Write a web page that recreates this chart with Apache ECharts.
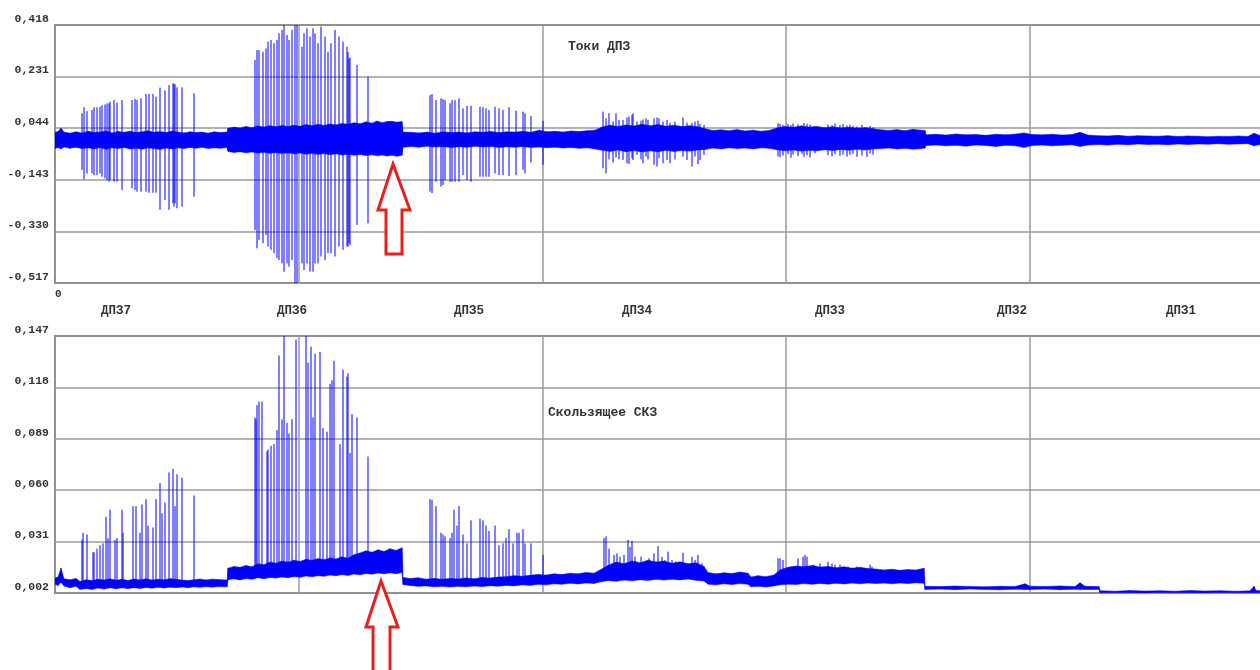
<!DOCTYPE html>
<html>
<head>
<meta charset="utf-8">
<title>Токи ДПЗ / Скользящее СКЗ</title>
<script src="https://cdn.jsdelivr.net/npm/echarts@6.0.0/dist/echarts.min.js"></script>
<style>
    html, body { margin: 0; padding: 0; background: #fff; }
    #chart { width: 1260px; height: 670px; }
</style>
</head>
<body>
<div id="chart"></div>
<script>
// горизонталь: отсчёты 0 … 1207, вертикальная сетка каждые 243.7
const xMax = 1207
const xStep = 243.7

const topTicks = [-0.517, -0.330, -0.143, 0.044, 0.231, 0.418]
const botTicks = [0.002, 0.031, 0.060, 0.089, 0.118, 0.147]

const zoneNames = ['ДПЗ7', 'ДПЗ6', 'ДПЗ5', 'ДПЗ4', 'ДПЗ3', 'ДПЗ2', 'ДПЗ1']
const zoneX = [61, 237, 414, 582, 775, 957, 1126]

// Токи ДПЗ: огибающая шумовой полосы [x, низ, верх]
const topBand = [
    [0, -0.030, 0.028], [3, -0.026, 0.032], [6, -0.031, 0.044], [9, -0.024, 0.030], [15, -0.029, 0.026],
    [21, -0.025, 0.031], [27, -0.030, 0.027], [33, -0.027, 0.033], [39, -0.031, 0.028], [45, -0.026, 0.030],
    [51, -0.032, 0.034], [57, -0.027, 0.027], [63, -0.030, 0.032], [69, -0.026, 0.029], [75, -0.031, 0.033],
    [81, -0.028, 0.028], [87, -0.032, 0.031], [93, -0.027, 0.035], [99, -0.030, 0.029], [105, -0.033, 0.032],
    [111, -0.028, 0.028], [117, -0.031, 0.034], [123, -0.027, 0.030], [129, -0.030, 0.027], [135, -0.026, 0.031],
    [141, -0.029, 0.028], [147, -0.025, 0.030], [153, -0.030, 0.026], [159, -0.027, 0.031], [165, -0.029, 0.028],
    [172, -0.026, 0.030], [173, -0.040, 0.044], [179, -0.044, 0.048], [185, -0.041, 0.045], [191, -0.045, 0.050],
    [197, -0.042, 0.046], [203, -0.046, 0.052], [209, -0.043, 0.048], [215, -0.047, 0.053], [221, -0.044, 0.049],
    [227, -0.048, 0.054], [233, -0.045, 0.050], [239, -0.049, 0.055], [245, -0.046, 0.051], [251, -0.050, 0.057],
    [257, -0.047, 0.053], [263, -0.051, 0.058], [269, -0.048, 0.054], [275, -0.052, 0.059], [281, -0.049, 0.056],
    [287, -0.053, 0.061], [293, -0.050, 0.058], [299, -0.054, 0.064], [305, -0.051, 0.060], [311, -0.055, 0.067],
    [317, -0.052, 0.062], [322, -0.056, 0.070], [327, -0.053, 0.064], [332, -0.057, 0.068], [337, -0.054, 0.069],
    [342, -0.058, 0.066], [347, -0.054, 0.068], [348, -0.025, 0.030], [356, -0.022, 0.029], [364, -0.025, 0.027],
    [372, -0.021, 0.030], [380, -0.024, 0.026], [388, -0.022, 0.031], [396, -0.026, 0.028], [404, -0.023, 0.030],
    [412, -0.025, 0.027], [420, -0.021, 0.031], [428, -0.024, 0.029], [436, -0.022, 0.032], [444, -0.026, 0.028],
    [452, -0.023, 0.031], [460, -0.025, 0.030], [468, -0.022, 0.033], [476, -0.026, 0.029], [484, -0.024, 0.037],
    [492, -0.027, 0.031], [500, -0.025, 0.033], [508, -0.028, 0.030], [516, -0.026, 0.034], [524, -0.029, 0.032],
    [532, -0.027, 0.035], [540, -0.031, 0.037], [547, -0.036, 0.048], [555, -0.040, 0.055], [563, -0.035, 0.050],
    [571, -0.041, 0.056], [579, -0.037, 0.052], [587, -0.042, 0.058], [595, -0.038, 0.053], [603, -0.041, 0.057],
    [611, -0.036, 0.051], [619, -0.040, 0.055], [627, -0.037, 0.050], [635, -0.039, 0.053], [643, -0.035, 0.049],
    [650, -0.033, 0.042], [658, -0.028, 0.036], [666, -0.031, 0.038], [674, -0.027, 0.035], [682, -0.030, 0.039],
    [690, -0.028, 0.034], [698, -0.031, 0.037], [706, -0.027, 0.033], [714, -0.029, 0.036], [722, -0.034, 0.045],
    [730, -0.038, 0.050], [738, -0.035, 0.047], [746, -0.039, 0.052], [754, -0.036, 0.048], [762, -0.038, 0.050],
    [770, -0.034, 0.046], [778, -0.037, 0.049], [786, -0.033, 0.045], [794, -0.036, 0.047], [802, -0.032, 0.044],
    [810, -0.035, 0.046], [818, -0.031, 0.042], [826, -0.030, 0.038], [834, -0.028, 0.036], [842, -0.031, 0.039],
    [850, -0.029, 0.035], [858, -0.032, 0.040], [866, -0.030, 0.037], [870, -0.028, 0.036], [871, -0.019, 0.020],
    [881, -0.017, 0.022], [891, -0.020, 0.019], [901, -0.018, 0.023], [911, -0.021, 0.020], [921, -0.017, 0.021],
    [931, -0.019, 0.018], [941, -0.022, 0.022], [951, -0.018, 0.020], [961, -0.020, 0.023], [969, -0.026, 0.027],
    [977, -0.019, 0.021], [987, -0.017, 0.020], [997, -0.020, 0.022], [1007, -0.018, 0.019], [1017, -0.016, 0.021],
    [1025, -0.022, 0.029], [1033, -0.017, 0.019], [1043, -0.015, 0.017], [1053, -0.017, 0.016], [1063, -0.014, 0.018],
    [1073, -0.016, 0.015], [1083, -0.013, 0.017], [1093, -0.015, 0.016], [1103, -0.014, 0.015], [1113, -0.016, 0.017],
    [1123, -0.013, 0.014], [1133, -0.015, 0.016], [1143, -0.013, 0.015], [1153, -0.014, 0.013], [1163, -0.012, 0.015],
    [1173, -0.014, 0.014], [1183, -0.013, 0.016], [1193, -0.012, 0.014], [1199, -0.020, 0.026], [1207, -0.013, 0.015],
]

// Токи ДПЗ: отдельные выбросы [x, минимум, максимум]
const topSpikes = [
    // ДПЗ7
    [27, -0.108, 0.098], [29, -0.141, 0.120], [32, -0.120, 0.106], [37, -0.120, 0.110], [39, -0.126, 0.120],
    [42, -0.126, 0.120], [45, -0.120, 0.122], [47, -0.132, 0.127], [50, -0.138, 0.130], [52, -0.144, 0.134],
    [54, -0.150, 0.134], [55, -0.144, 0.140], [59, -0.150, 0.146], [62, -0.150, 0.137], [67, -0.180, 0.146],
    [77, -0.174, 0.146], [80, -0.180, 0.150], [82, -0.186, 0.146], [86, -0.186, 0.152], [91, -0.186, 0.168],
    [94, -0.190, 0.168], [98, -0.190, 0.168], [101, -0.190, 0.158], [105, -0.252, 0.191], [110, -0.216, 0.181],
    [114, -0.252, 0.200], [118, -0.228, 0.207], [119, -0.240, 0.205], [120, -0.228, 0.203], [122, -0.246, 0.192],
    [127, -0.240, 0.192], [139, -0.204, 0.170],
    // ДПЗ6
    [200, -0.325, 0.291], [202, -0.391, 0.327], [204, -0.361, 0.327], [208, -0.373, 0.321], [211, -0.343, 0.333],
    [213, -0.385, 0.358], [216, -0.397, 0.364], [219, -0.409, 0.352], [222, -0.427, 0.364], [224, -0.434, 0.388],
    [227, -0.446, 0.400], [229, -0.476, 0.418], [232, -0.446, 0.382], [234, -0.458, 0.364], [237, -0.434, 0.400],
    [240, -0.517, 0.418], [242, -0.517, 0.418], [247, -0.446, 0.339], [249, -0.470, 0.388], [252, -0.446, 0.406],
    [255, -0.476, 0.376], [258, -0.476, 0.406], [260, -0.446, 0.388], [263, -0.446, 0.352], [266, -0.421, 0.412],
    [270, -0.434, 0.376], [273, -0.409, 0.321], [276, -0.409, 0.352], [280, -0.421, 0.400], [284, -0.385, 0.376],
    [288, -0.397, 0.358], [292, -0.385, 0.339], [293, -0.385, 0.320], [294, -0.373, 0.297], [295, -0.380, 0.300],
    [302, -0.307, 0.273], [313, -0.301, 0.231],
    // ДПЗ5
    [375, -0.186, 0.164], [377, -0.192, 0.168], [381, -0.150, 0.146], [386, -0.168, 0.152], [388, -0.162, 0.149],
    [390, -0.144, 0.146], [395, -0.150, 0.134], [397, -0.150, 0.146], [400, -0.150, 0.146], [404, -0.150, 0.152],
    [408, -0.126, 0.116], [412, -0.144, 0.125], [416, -0.150, 0.125], [425, -0.132, 0.122], [428, -0.132, 0.120],
    [431, -0.132, 0.116], [434, -0.132, 0.110], [440, -0.120, 0.122], [444, -0.126, 0.116], [448, -0.126, 0.110],
    [454, -0.129, 0.120], [461, -0.126, 0.108], [468, -0.107, 0.104], [470, -0.120, 0.098], [476, -0.081, 0.088],
    [488, -0.089, 0.071],
    // ДПЗ4
    [548, -0.101, 0.104], [551, -0.120, 0.080], [554, -0.069, 0.098], [558, -0.081, 0.068], [561, -0.062, 0.098],
    [564, -0.069, 0.074], [568, -0.071, 0.074], [572, -0.083, 0.083], [574, -0.086, 0.086], [577, -0.065, 0.092],
    [578, -0.071, 0.098], [582, -0.053, 0.068], [586, -0.069, 0.071], [588, -0.083, 0.076], [591, -0.059, 0.080],
    [593, -0.069, 0.074], [599, -0.089, 0.080], [602, -0.095, 0.083], [604, -0.065, 0.080], [608, -0.083, 0.068],
    [612, -0.071, 0.074], [615, -0.083, 0.064], [620, -0.069, 0.068], [628, -0.059, 0.083], [632, -0.071, 0.064],
    [637, -0.095, 0.064], [640, -0.059, 0.068], [643, -0.086, 0.071], [645, -0.071, 0.059], [649, -0.053, 0.056],
    // ДПЗ3
    [723, -0.058, 0.062], [725, -0.061, 0.060], [728, -0.055, 0.056], [733, -0.050, 0.059], [736, -0.063, 0.055],
    [738, -0.052, 0.061], [743, -0.057, 0.058], [747, -0.049, 0.054], [749, -0.060, 0.063], [752, -0.054, 0.060],
    [755, -0.062, 0.057], [760, -0.047, 0.052], [773, -0.054, 0.058], [777, -0.058, 0.055], [780, -0.050, 0.061],
    [785, -0.056, 0.056], [788, -0.052, 0.059], [792, -0.059, 0.054], [795, -0.053, 0.057], [798, -0.049, 0.053],
    [802, -0.060, 0.050], [807, -0.055, 0.055], [812, -0.060, 0.048], [815, -0.048, 0.052], [818, -0.052, 0.047],
]

// Скользящее СКЗ: огибающая полосы [x, низ, верх]
const botBand = [
    [0, 0.0070, 0.0105], [3, 0.0062, 0.0110], [6, 0.0080, 0.0160], [9, 0.0060, 0.0100], [15, 0.0050, 0.0095],
    [21, 0.0058, 0.0102], [25, 0.0040, 0.0085], [31, 0.0045, 0.0095], [37, 0.0040, 0.0090], [43, 0.0048, 0.0098],
    [49, 0.0042, 0.0093], [55, 0.0050, 0.0100], [61, 0.0044, 0.0092], [67, 0.0049, 0.0097], [73, 0.0045, 0.0091],
    [79, 0.0050, 0.0099], [85, 0.0046, 0.0094], [91, 0.0051, 0.0100], [97, 0.0047, 0.0093], [103, 0.0052, 0.0098],
    [109, 0.0048, 0.0095], [115, 0.0053, 0.0101], [121, 0.0050, 0.0097], [127, 0.0054, 0.0093], [133, 0.0050, 0.0090],
    [139, 0.0055, 0.0095], [145, 0.0052, 0.0099], [151, 0.0056, 0.0094], [157, 0.0053, 0.0098], [163, 0.0057, 0.0096],
    [172, 0.0055, 0.0093], [173, 0.0095, 0.0160], [179, 0.0100, 0.0170], [185, 0.0094, 0.0165], [191, 0.0102, 0.0175],
    [197, 0.0098, 0.0168], [203, 0.0106, 0.0185], [209, 0.0101, 0.0180], [215, 0.0108, 0.0195], [221, 0.0104, 0.0188],
    [227, 0.0110, 0.0200], [233, 0.0106, 0.0194], [239, 0.0113, 0.0205], [245, 0.0109, 0.0198], [251, 0.0116, 0.0210],
    [257, 0.0112, 0.0204], [263, 0.0118, 0.0214], [269, 0.0114, 0.0208], [275, 0.0121, 0.0218], [281, 0.0117, 0.0212],
    [287, 0.0124, 0.0224], [293, 0.0119, 0.0216], [299, 0.0127, 0.0236], [305, 0.0123, 0.0246], [311, 0.0130, 0.0258],
    [317, 0.0126, 0.0250], [323, 0.0133, 0.0264], [329, 0.0128, 0.0254], [335, 0.0134, 0.0270], [341, 0.0129, 0.0260],
    [347, 0.0135, 0.0275], [348, 0.0068, 0.0108], [355, 0.0062, 0.0102], [363, 0.0058, 0.0106], [371, 0.0060, 0.0098],
    [379, 0.0055, 0.0102], [387, 0.0058, 0.0098], [395, 0.0054, 0.0102], [403, 0.0058, 0.0099], [411, 0.0055, 0.0105],
    [419, 0.0059, 0.0100], [427, 0.0056, 0.0108], [435, 0.0061, 0.0104], [443, 0.0058, 0.0110], [451, 0.0063, 0.0112],
    [459, 0.0060, 0.0118], [467, 0.0066, 0.0114], [475, 0.0063, 0.0120], [483, 0.0069, 0.0125], [491, 0.0066, 0.0121],
    [499, 0.0072, 0.0128], [507, 0.0069, 0.0124], [515, 0.0075, 0.0132], [523, 0.0071, 0.0128], [531, 0.0077, 0.0136],
    [539, 0.0074, 0.0132], [545, 0.0082, 0.0150], [553, 0.0090, 0.0175], [561, 0.0086, 0.0195], [569, 0.0093, 0.0185],
    [577, 0.0089, 0.0200], [585, 0.0095, 0.0190], [593, 0.0091, 0.0205], [601, 0.0097, 0.0195], [609, 0.0093, 0.0200],
    [617, 0.0098, 0.0188], [625, 0.0094, 0.0196], [633, 0.0099, 0.0185], [641, 0.0092, 0.0190], [649, 0.0088, 0.0170],
    [653, 0.0070, 0.0135], [661, 0.0066, 0.0128], [669, 0.0072, 0.0134], [677, 0.0068, 0.0130], [685, 0.0073, 0.0138],
    [693, 0.0069, 0.0132], [696, 0.0055, 0.0110], [703, 0.0058, 0.0118], [711, 0.0054, 0.0112], [719, 0.0060, 0.0122],
    [725, 0.0066, 0.0150], [733, 0.0070, 0.0165], [741, 0.0068, 0.0172], [749, 0.0073, 0.0168], [757, 0.0069, 0.0175],
    [765, 0.0074, 0.0166], [773, 0.0070, 0.0170], [781, 0.0075, 0.0162], [789, 0.0071, 0.0168], [797, 0.0076, 0.0160],
    [805, 0.0072, 0.0165], [813, 0.0077, 0.0158], [821, 0.0073, 0.0155], [829, 0.0076, 0.0150], [837, 0.0072, 0.0154],
    [845, 0.0077, 0.0148], [853, 0.0073, 0.0152], [861, 0.0078, 0.0150], [869, 0.0075, 0.0160], [870, 0.0040, 0.0058],
    [885, 0.0042, 0.0056], [900, 0.0039, 0.0059], [915, 0.0043, 0.0057], [930, 0.0040, 0.0055], [945, 0.0038, 0.0058],
    [960, 0.0041, 0.0056], [970, 0.0040, 0.0072], [975, 0.0040, 0.0058], [990, 0.0042, 0.0057], [1005, 0.0039, 0.0060],
    [1020, 0.0041, 0.0056], [1025, 0.0040, 0.0078], [1030, 0.0040, 0.0058], [1044, 0.0040, 0.0056], [1045, 0.0022, 0.0033],
    [1060, 0.0021, 0.0030], [1075, 0.0022, 0.0034], [1090, 0.0020, 0.0031], [1105, 0.0023, 0.0033], [1120, 0.0021, 0.0030],
    [1135, 0.0022, 0.0034], [1150, 0.0020, 0.0031], [1165, 0.0023, 0.0033], [1180, 0.0021, 0.0030], [1195, 0.0022, 0.0032],
    [1199, 0.0022, 0.0058], [1201, 0.0022, 0.0034], [1207, 0.0021, 0.0031],
]

// Скользящее СКЗ: выбросы [x, основание, пик]
const botSpikes = [
    // ДПЗ7
    [27, 0.006, 0.032], [28, 0.006, 0.036], [32, 0.006, 0.035], [38, 0.006, 0.025], [39, 0.006, 0.025],
    [42, 0.006, 0.027], [45, 0.006, 0.029], [48, 0.006, 0.030], [51, 0.006, 0.045], [53, 0.006, 0.033],
    [55, 0.006, 0.049], [60, 0.006, 0.032], [62, 0.006, 0.033], [67, 0.006, 0.049], [68, 0.006, 0.036],
    [78, 0.006, 0.051], [81, 0.006, 0.051], [85, 0.006, 0.036], [87, 0.006, 0.052], [91, 0.006, 0.055],
    [93, 0.006, 0.040], [98, 0.006, 0.039], [101, 0.006, 0.055], [105, 0.006, 0.064], [107, 0.006, 0.047],
    [110, 0.006, 0.053], [114, 0.006, 0.070], [118, 0.006, 0.072], [120, 0.006, 0.051], [122, 0.006, 0.069],
    [127, 0.006, 0.067], [139, 0.006, 0.057],
    // ДПЗ6
    [200, 0.013, 0.101], [201, 0.013, 0.100], [202, 0.013, 0.108], [204, 0.013, 0.110], [207, 0.013, 0.110],
    [212, 0.013, 0.082], [213, 0.013, 0.083], [216, 0.013, 0.085], [219, 0.013, 0.086], [222, 0.013, 0.094],
    [224, 0.013, 0.136], [227, 0.013, 0.100], [229, 0.013, 0.147], [232, 0.013, 0.098], [234, 0.013, 0.092],
    [237, 0.013, 0.100], [241, 0.013, 0.145], [251, 0.013, 0.147], [253, 0.013, 0.132], [256, 0.013, 0.141],
    [258, 0.013, 0.101], [260, 0.013, 0.137], [265, 0.013, 0.138], [268, 0.013, 0.095], [272, 0.013, 0.093],
    [275, 0.013, 0.120], [277, 0.013, 0.122], [279, 0.013, 0.133], [285, 0.013, 0.086], [288, 0.013, 0.128],
    [292, 0.013, 0.124], [293, 0.013, 0.126], [295, 0.013, 0.081], [297, 0.013, 0.103], [302, 0.013, 0.101],
    [313, 0.013, 0.079],
    // ДПЗ5
    [375, 0.007, 0.055], [377, 0.007, 0.0545], [381, 0.007, 0.051], [386, 0.007, 0.036], [388, 0.007, 0.035],
    [390, 0.007, 0.034], [395, 0.007, 0.033], [397, 0.007, 0.036], [399, 0.007, 0.049], [402, 0.007, 0.040],
    [404, 0.007, 0.051], [408, 0.007, 0.035], [412, 0.007, 0.030], [416, 0.007, 0.043], [425, 0.007, 0.044],
    [428, 0.007, 0.043], [431, 0.007, 0.040], [434, 0.007, 0.037], [440, 0.007, 0.040], [444, 0.007, 0.029],
    [448, 0.007, 0.030], [451, 0.007, 0.033], [454, 0.007, 0.038], [458, 0.007, 0.030], [462, 0.007, 0.036],
    [464, 0.007, 0.036], [468, 0.007, 0.038], [470, 0.007, 0.030], [476, 0.007, 0.030], [488, 0.007, 0.0235],
    // ДПЗ4
    [549, 0.010, 0.033], [551, 0.010, 0.034], [554, 0.010, 0.027], [559, 0.010, 0.0235], [562, 0.010, 0.0244],
    [565, 0.010, 0.0225], [569, 0.010, 0.0235], [573, 0.010, 0.032], [575, 0.010, 0.028], [577, 0.010, 0.0315],
    [580, 0.010, 0.0225], [582, 0.010, 0.0197], [586, 0.010, 0.0225], [590, 0.010, 0.0187], [594, 0.010, 0.0216],
    [599, 0.010, 0.0244], [603, 0.010, 0.0285], [607, 0.010, 0.0225], [610, 0.010, 0.0206], [613, 0.010, 0.0253],
    [617, 0.010, 0.0206], [621, 0.010, 0.0197], [628, 0.010, 0.0247], [633, 0.010, 0.0169], [637, 0.010, 0.0225],
    [640, 0.010, 0.0206], [643, 0.010, 0.0235], [647, 0.010, 0.0187],
    // ДПЗ3
    [723, 0.008, 0.0216], [725, 0.008, 0.0216], [728, 0.008, 0.0206], [736, 0.008, 0.0169], [743, 0.008, 0.0216],
    [748, 0.008, 0.0225], [750, 0.008, 0.0235], [752, 0.008, 0.0225], [759, 0.008, 0.018], [762, 0.008, 0.016],
    [765, 0.008, 0.0187], [773, 0.008, 0.0197], [777, 0.008, 0.0187], [780, 0.008, 0.018], [785, 0.008, 0.018],
    [788, 0.008, 0.016], [793, 0.008, 0.0169], [798, 0.008, 0.016], [802, 0.008, 0.0169], [807, 0.008, 0.016],
    [815, 0.008, 0.018], [817, 0.008, 0.0169], [825, 0.008, 0.013], [832, 0.008, 0.0122], [845, 0.008, 0.0122],
    [860, 0.008, 0.013],
]

const BLUE = '#0000ff'
const FONT = 'Liberation Mono'
const TEXT = '#333'

const fmt = v => v.toFixed(3).replace('.', ',')

function bandRenderer(band) {
    return function (params, api) {
        const i = params.dataIndex
        if (i >= band.length - 1) return null
        const p = band[i]
        const q = band[i + 1]
        const pts = [
            api.coord([p[0], p[1]]),
            api.coord([p[0], p[2]]),
            api.coord([q[0], q[2]]),
            api.coord([q[0], q[1]]),
        ]
        return {
            type: 'polygon',
            shape: { points: pts },
            style: { fill: BLUE, stroke: BLUE, lineWidth: 0.5 },
        }
    }
}

function renderSpike(params, api) {
    const a = api.coord([api.value(0), api.value(1)])
    const b = api.coord([api.value(0), api.value(2)])
    return {
        type: 'line',
        shape: { x1: a[0], y1: a[1], x2: b[0], y2: b[1] },
        style: { stroke: BLUE, lineWidth: 1 },
    }
}

function yAxisFor(gridIndex, ticks) {
    return {
        gridIndex: gridIndex,
        type: 'value',
        min: ticks[0],
        max: ticks[ticks.length - 1],
        interval: ticks[1] - ticks[0],
        axisLine: { show: false },
        axisTick: { show: false },
        splitLine: { lineStyle: { color: '#9a9a9a', width: 1.5 } },
        axisLabel: {
            margin: 6,
            verticalAlign: 'bottom',
            fontFamily: FONT,
            fontWeight: 'bold',
            fontSize: 11.5,
            color: TEXT,
            formatter: v => fmt(v),
        },
    }
}

const chart = echarts.init(document.getElementById('chart'))

chart.setOption({
    animation: false,
    backgroundColor: '#fff',
    title: [
        {
            text: 'Токи ДПЗ',
            left: 568,
            top: 40,
            padding: 0,
            textStyle: { fontFamily: FONT, fontWeight: 'bold', fontSize: 13, color: TEXT },
        },
        {
            text: 'Скользящее СКЗ',
            left: 548,
            top: 406,
            padding: 0,
            textStyle: { fontFamily: FONT, fontWeight: 'bold', fontSize: 13, color: TEXT },
        },
    ],
    grid: [
        {
            left: 55, top: 25, right: -2, height: 258,
            outerBoundsMode: 'none',
            show: true, borderColor: '#7a7a7a', borderWidth: 2, backgroundColor: 'transparent',
        },
        {
            left: 55, top: 336, right: -2, height: 257,
            outerBoundsMode: 'none',
            show: true, borderColor: '#7a7a7a', borderWidth: 2, backgroundColor: 'transparent',
        },
    ],
    xAxis: [
        {
            gridIndex: 0,
            type: 'value',
            min: 0,
            max: xMax,
            interval: xStep,
            axisLine: { show: false },
            axisTick: { show: false },
            splitLine: { lineStyle: { color: '#9a9a9a', width: 1.5 } },
            axisLabel: {
                margin: 6,
                fontFamily: FONT,
                fontWeight: 'bold',
                fontSize: 11,
                color: TEXT,
                align: 'left',
                formatter: v => (v === 0 ? '0' : ''),
            },
        },
        {
            gridIndex: 1,
            type: 'value',
            min: 0,
            max: xMax,
            interval: xStep,
            axisLine: { show: false },
            axisTick: { show: false },
            splitLine: { lineStyle: { color: '#9a9a9a', width: 1.5 } },
            axisLabel: { show: false },
        },
        {
            gridIndex: 1,
            type: 'value',
            position: 'top',
            min: 0,
            max: xMax,
            axisLine: { show: false },
            axisTick: { show: false },
            splitLine: { show: false },
            axisLabel: {
                customValues: zoneX,
                margin: 19,
                fontFamily: FONT,
                fontWeight: 'bold',
                fontSize: 12.5,
                color: TEXT,
                formatter: v => zoneNames[zoneX.indexOf(v)] || '',
            },
        },
    ],
    yAxis: [yAxisFor(0, topTicks), yAxisFor(1, botTicks)],
    series: [
        {
            name: 'Токи ДПЗ — полоса',
            type: 'custom',
            xAxisIndex: 0,
            yAxisIndex: 0,
            clip: true,
            renderItem: bandRenderer(topBand),
            encode: { x: 0, y: [1, 2] },
            data: topBand,
        },
        {
            name: 'Токи ДПЗ',
            type: 'custom',
            xAxisIndex: 0,
            yAxisIndex: 0,
            clip: true,
            renderItem: renderSpike,
            encode: { x: 0, y: [1, 2] },
            data: topSpikes,
        },
        {
            name: 'Скользящее СКЗ — полоса',
            type: 'custom',
            xAxisIndex: 1,
            yAxisIndex: 1,
            clip: true,
            renderItem: bandRenderer(botBand),
            encode: { x: 0, y: [1, 2] },
            data: botBand,
        },
        {
            name: 'Скользящее СКЗ',
            type: 'custom',
            xAxisIndex: 1,
            yAxisIndex: 1,
            clip: true,
            renderItem: renderSpike,
            encode: { x: 0, y: [1, 2] },
            data: botSpikes,
        },
    ],
    // стрелки-пометки
    graphic: [
        {
            type: 'polygon',
            z: 100,
            shape: { points: [[393, 164], [410, 210], [402, 210], [402, 254], [386, 254], [386, 210], [378, 210]] },
            style: { fill: '#fff', stroke: '#e8201c', lineWidth: 3 },
        },
        {
            type: 'polygon',
            z: 100,
            shape: { points: [[381, 581], [398, 627], [390, 627], [390, 675], [373, 675], [373, 627], [366, 627]] },
            style: { fill: '#fff', stroke: '#e8201c', lineWidth: 3 },
        },
    ],
})
</script>
</body>
</html>
